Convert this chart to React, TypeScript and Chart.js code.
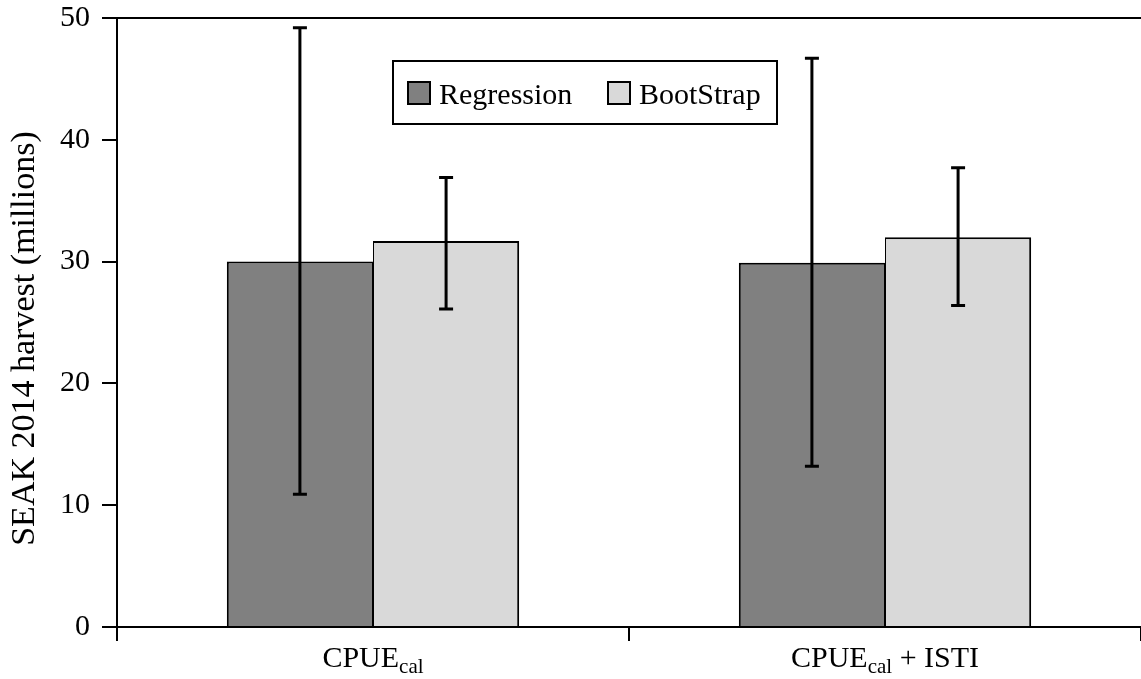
import React, { useEffect, useRef } from "react";
import { Chart, registerables } from "chart.js";

Chart.register(...registerables);

const categories = ["CPUE_cal", "CPUE_cal + ISTI"];
const seriesNames = ["Regression", "BootStrap"];
const regression = [30.0, 29.9];
const regressionLow = [10.9, 13.2];
const regressionHigh = [49.2, 46.7];
const bootstrap = [31.7, 32.0];
const bootstrapLow = [26.1, 26.4];
const bootstrapHigh = [36.9, 37.7];
const yTicks = [0, 10, 20, 30, 40, 50];
const yTitle = "SEAK 2014 harvest (millions)";

const FONT = "'Liberation Serif', 'Times New Roman', serif";
const colors = ["#808080", "#d9d9d9"];

const errorBarPlugin = {
  id: "errorBars",
  afterDatasetsDraw(chart: any) {
    const { ctx } = chart;
    const y = chart.scales.y;
    const lows = [regressionLow, bootstrapLow];
    const highs = [regressionHigh, bootstrapHigh];
    ctx.save();
    ctx.strokeStyle = "#000";
    ctx.lineWidth = 3;
    chart.data.datasets.forEach((_: any, di: number) => {
      const meta = chart.getDatasetMeta(di);
      meta.data.forEach((bar: any, i: number) => {
        const x = bar.x;
        const yl = y.getPixelForValue(lows[di][i]);
        const yh = y.getPixelForValue(highs[di][i]);
        ctx.beginPath();
        ctx.moveTo(x, yl);
        ctx.lineTo(x, yh);
        ctx.moveTo(x - 7, yl);
        ctx.lineTo(x + 7, yl);
        ctx.moveTo(x - 7, yh);
        ctx.lineTo(x + 7, yh);
        ctx.stroke();
      });
    });
    ctx.restore();
  },
};

const framePlugin = {
  id: "frameTop",
  afterDraw(chart: any) {
    const { ctx, chartArea } = chart;
    ctx.save();
    ctx.strokeStyle = "#000";
    ctx.lineWidth = 2;
    ctx.beginPath();
    ctx.moveTo(chartArea.left - 1, chartArea.top);
    ctx.lineTo(chartArea.right, chartArea.top);
    ctx.stroke();
    // y-axis title
    ctx.fillStyle = "#000";
    ctx.font = `34px ${FONT}`;
    ctx.textAlign = "center";
    ctx.textBaseline = "middle";
    ctx.translate(25, (chartArea.top + chartArea.bottom) / 2 + 16);
    ctx.rotate(-Math.PI / 2);
    ctx.fillText(yTitle, 0, 0);
    ctx.restore();
  },
};

const xLabelPlugin = {
  id: "xLabels",
  afterDraw(chart: any) {
    const { ctx } = chart;
    const xs = chart.scales.x;
    const mainFont = `30px ${FONT}`;
    const subFont = `21px ${FONT}`;
    ctx.save();
    ctx.fillStyle = "#000";
    ctx.textBaseline = "alphabetic";
    ctx.textAlign = "left";
    categories.forEach((label, i) => {
      const m = label.match(/^([^_]*)_(\w+)(.*)$/);
      const parts = m ? [m[1], m[2], m[3]] : [label, "", ""];
      ctx.font = mainFont;
      const w0 = ctx.measureText(parts[0]).width;
      const w2 = ctx.measureText(parts[2]).width;
      ctx.font = subFont;
      const w1 = ctx.measureText(parts[1]).width;
      const total = w0 + w1 + w2;
      const cx = xs.getPixelForValue(i);
      let x = cx - total / 2;
      const base = xs.top + 40;
      ctx.font = mainFont;
      ctx.fillText(parts[0], x, base);
      x += w0;
      ctx.font = subFont;
      ctx.fillText(parts[1], x, base + 6);
      x += w1;
      ctx.font = mainFont;
      ctx.fillText(parts[2], x, base);
    });
    ctx.restore();
  },
};

const legendPlugin = {
  id: "boxLegend",
  afterDraw(chart: any) {
    const { ctx } = chart;
    ctx.save();
    ctx.font = `30px ${FONT}`;
    const bx = 393, by = 61, bw = 384, bh = 63;
    ctx.fillStyle = "#fff";
    ctx.fillRect(bx, by, bw, bh);
    ctx.strokeStyle = "#000";
    ctx.lineWidth = 2;
    ctx.strokeRect(bx, by, bw, bh);
    const itemX = [408, 608];
    seriesNames.forEach((name, i) => {
      ctx.fillStyle = colors[i];
      ctx.fillRect(itemX[i], 82, 22, 22);
      ctx.strokeStyle = "#000";
      ctx.lineWidth = 2;
      ctx.strokeRect(itemX[i], 82, 22, 22);
      ctx.fillStyle = "#000";
      ctx.textBaseline = "alphabetic";
      ctx.textAlign = "left";
      ctx.fillText(name, itemX[i] + 31, 104);
    });
    ctx.restore();
  },
};

export default function App() {
  const ref = useRef<HTMLCanvasElement | null>(null);
  useEffect(() => {
    document.body.style.margin = "0";
    if (!ref.current) return;
    const chart = new Chart(ref.current, {
      type: "bar",
      data: {
        labels: categories,
        datasets: [
          {
            label: seriesNames[0],
            data: regression,
            backgroundColor: colors[0],
            borderColor: "#000",
            borderWidth: { top: 2, left: 2, right: 1, bottom: 0 },
            borderSkipped: false,
          },
          {
            label: seriesNames[1],
            data: bootstrap,
            backgroundColor: colors[1],
            borderColor: "#000",
            borderWidth: { top: 2, left: 1, right: 2, bottom: 0 },
            borderSkipped: false,
          },
        ],
      },
      options: {
        animation: false,
        responsive: true,
        maintainAspectRatio: false,
        layout: { padding: { top: 18, right: 0, left: 0, bottom: 0 } },
        datasets: {
          bar: { categoryPercentage: 0.571, barPercentage: 1.0 },
        },
        plugins: {
          legend: { display: false },
          tooltip: { enabled: false },
        },
        scales: {
          x: {
            grid: {
              offset: true,
              drawOnChartArea: false,
              drawTicks: true,
              tickLength: 14,
              color: "#000",
              lineWidth: 2,
            },
            border: { color: "#000", width: 2 },
            ticks: { callback: () => "", font: { family: FONT, size: 30 } },
            afterFit: (s: any) => {
              s.height = 52;
            },
          },
          y: {
            min: 0,
            max: 50,
            afterBuildTicks: (s: any) => {
              s.ticks = yTicks.map((v) => ({ value: v }));
            },
            grid: {
              drawOnChartArea: false,
              drawTicks: true,
              tickLength: 15,
              color: "#000",
              lineWidth: 2,
            },
            border: { color: "#000", width: 2 },
            ticks: {
              padding: 12,
              color: "#000",
              font: { family: FONT, size: 30 },
            },
            afterFit: (s: any) => {
              s.width = 117;
              s.paddingTop = 0;
              s.paddingBottom = 0;
            },
          },
        },
      },
      plugins: [errorBarPlugin, framePlugin, xLabelPlugin, legendPlugin],
    });
    return () => chart.destroy();
  }, []);
  return (
    <div style={{ position: "relative", width: 1141, height: 679 }}>
      <canvas ref={ref} />
    </div>
  );
}
